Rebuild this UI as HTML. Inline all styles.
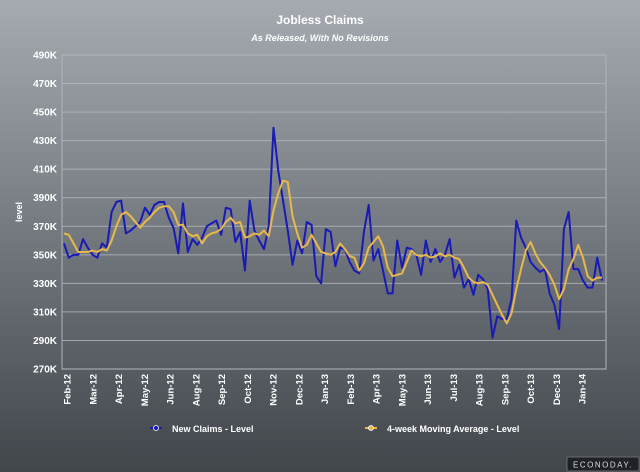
<!DOCTYPE html>
<html><head><meta charset="utf-8"><style>
html,body{margin:0;padding:0;}
body{width:640px;height:472px;overflow:hidden;background:linear-gradient(#a5abb1 0%,#878d93 30%,#5e646a 70%,#41464b 100%);font-family:"Liberation Sans",sans-serif;}
</style></head><body>
<svg id="chart" width="640" height="472" xmlns="http://www.w3.org/2000/svg" style="position:absolute;left:0;top:0">
<text x="320" y="24" text-anchor="middle" fill="#fff" font-size="12" font-weight="bold">Jobless Claims</text>
<text x="320" y="41" text-anchor="middle" fill="#fff" font-size="9" font-weight="bold" font-style="italic">As Released, With No Revisions</text>
<text transform="translate(22,212) rotate(-90)" text-anchor="middle" fill="#fff" font-size="9" font-weight="bold">level</text>
<rect x="62" y="55" width="544" height="314" fill="none" stroke="#b0b5ba" stroke-width="1"/>
<g id="grid"></g><g id="yt"></g><g id="xt"></g><g id="series"></g>
<g>
<g>
<line x1="150" y1="428" x2="162" y2="428" stroke="#1a1ab4" stroke-width="2"/><circle cx="156" cy="428" r="2.5" fill="#1a1ab4" stroke="#fff" stroke-width="0.8"/>
<text x="172" y="432" fill="#fff" font-size="9" font-weight="bold">New Claims - Level</text></g>
<g>
<line x1="365" y1="428" x2="377" y2="428" stroke="#e8b84a" stroke-width="2"/><circle cx="371" cy="428" r="2.5" fill="#e8b84a" stroke="#fff" stroke-width="0.8"/>
<text x="387" y="432" fill="#fff" font-size="9" font-weight="bold">4-week Moving Average - Level</text></g>
</g>
<g>
<rect x="567" y="457" width="72" height="14" fill="#1e2226" stroke="#777" stroke-width="0.8"/>
<text x="603" y="467.5" text-anchor="middle" fill="#ddd" font-size="8" letter-spacing="1.5">ECONODAY.</text></g>
</svg>
<script>
const yTicks=[270,290,310,330,350,370,390,410,430,450,470,490];
const xLabels=["Feb-12","Mar-12","Apr-12","May-12","Jun-12","Aug-12","Sep-12","Oct-12","Nov-12","Dec-12","Jan-13","Feb-13","Apr-13","May-13","Jun-13","Jul-13","Aug-13","Sep-13","Oct-13","Dec-13","Jan-14"];
const newClaims=[358,348,350,350,361,355,350,348,358,355,380,387,388,365,367,370,373,383,378,385,387,387,376,369,351,386,352,361,357,362,370,372,374,364,383,382,359,366,339,388,367,360,354,370,439,409,388,367,343,360,351,373,371,335,330,368,366,342,355,354,345,339,337,366,385,346,354,339,323,323,360,341,355,354,350,336,360,345,354,345,350,361,334,343,327,333,322,336,333,326,292,307,305,305,319,374,362,355,345,341,338,340,323,315,298,368,380,340,340,332,327,327,348,332];
const movingAvg=[365,364,358,352,352,352,353,352,354,353,360,370,378,380,377,373,369,373,376,380,383,384,384,380,371,371,365,363,364,358,363,365,366,368,373,376,372,373,362,363,365,364,367,363,381,393,402,401,377,365,355,357,364,358,352,351,350,352,358,354,349,348,339,344,355,359,363,356,341,335,336,337,345,353,350,349,350,348,349,351,349,350,348,347,341,334,331,330,331,329,322,315,308,302,309,326,340,353,359,351,345,341,336,329,319,326,340,347,357,348,335,332,334,334];
const NS="http://www.w3.org/2000/svg";
const L=62,R=606,T=55,B=369,X0=64,X1=602;
const y=v=>B-(v-270)/(490-270)*(B-T);
const x=i=>X0+i*(X1-X0)/(newClaims.length-1);
const xl=i=>67+i*(582-67)/(xLabels.length-1);
function mk(tag,attrs,parent){const e=document.createElementNS(NS,tag);for(const k in attrs)e.setAttribute(k,attrs[k]);parent.appendChild(e);return e;}
const grid=document.getElementById('grid'),yt=document.getElementById('yt'),xt=document.getElementById('xt'),ser=document.getElementById('series');
yTicks.forEach(v=>{
  const g=mk('line',{x1:L,x2:R,y1:y(v),y2:y(v),stroke:'#b3b8bd','stroke-width':1,'stroke-opacity':0.8},grid);
  
  
  const t=mk('text',{x:57,y:y(v)+3.5,'text-anchor':'end',fill:'#fff','font-size':10,'font-weight':'bold'},yt);
  t.textContent=v+'K';
  
  
});
xLabels.forEach((s,i)=>{
  const t=mk('text',{transform:`translate(${xl(i)+3.5},374) rotate(-90)`,'text-anchor':'end',fill:'#fff','font-size':9.5,'font-weight':'bold'},xt);
  t.textContent=s;
  
  
});
function line(arr,col,name){
  const p=mk('polyline',{points:arr.map((v,i)=>x(i)+','+y(v)).join(' '),fill:'none',stroke:col,'stroke-width':2,'stroke-linejoin':'round'},ser);
  
  
}
line(newClaims,'#1a1ab4','new-claims-line');
line(movingAvg,'#e8b84a','moving-average-line');
</script>
</body></html>
